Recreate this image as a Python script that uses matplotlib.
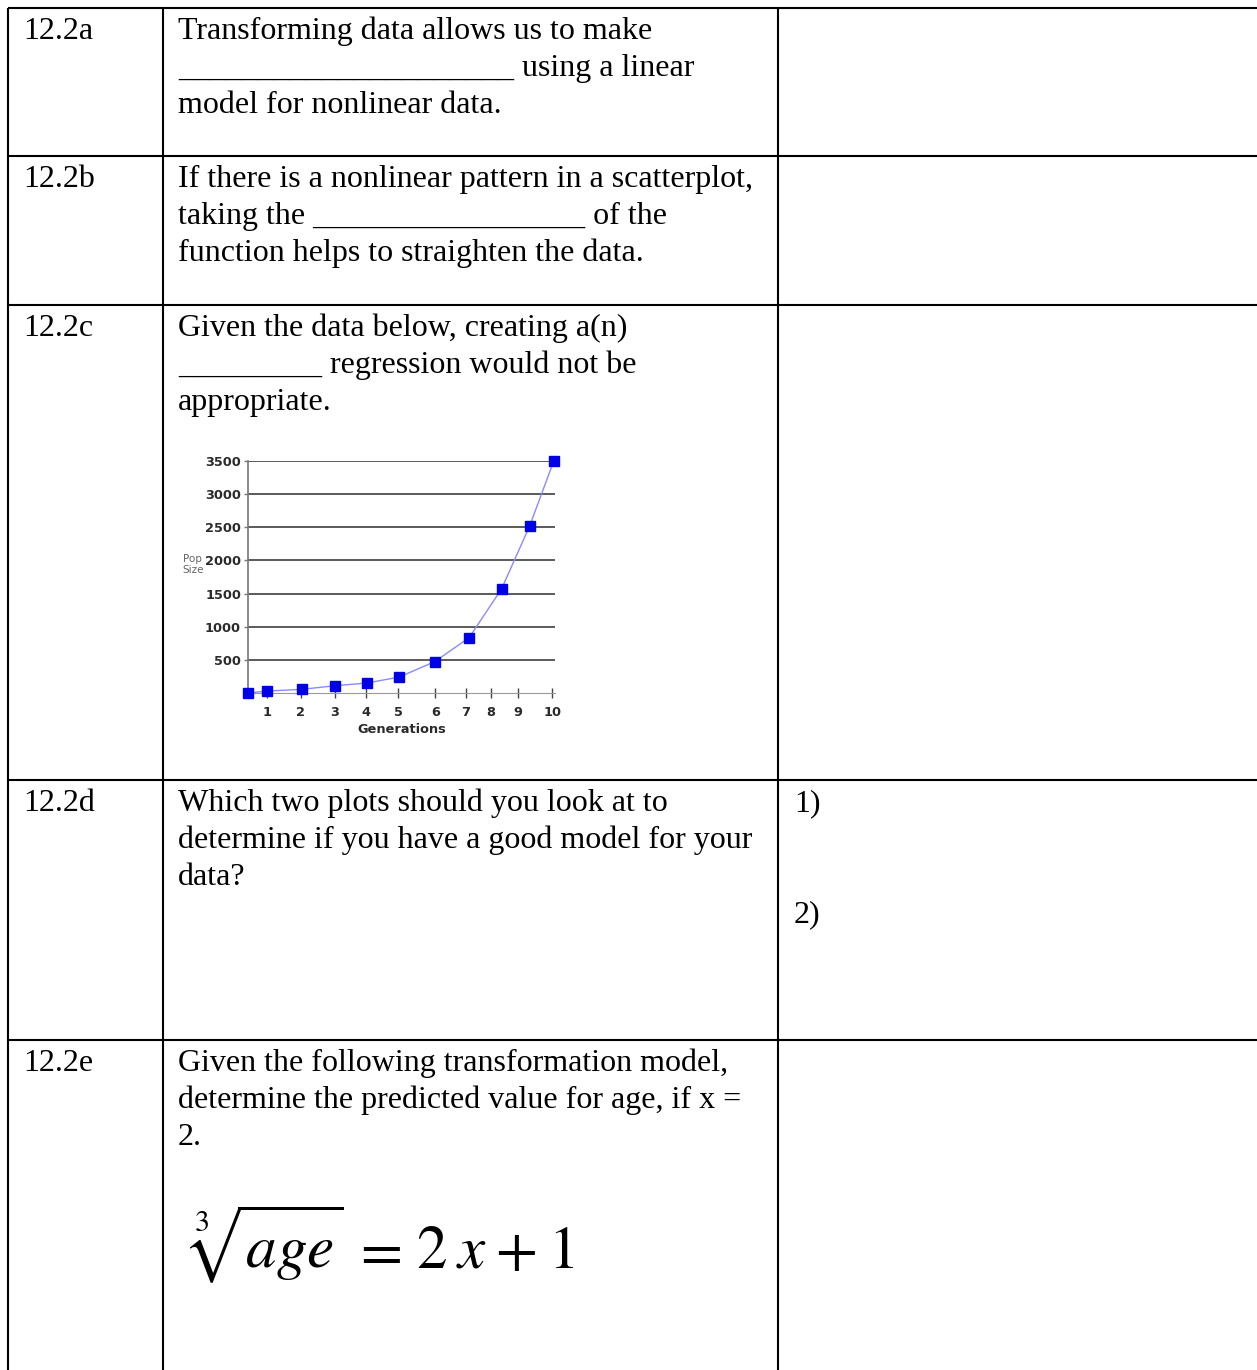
import matplotlib
matplotlib.use('Agg')
import matplotlib.pyplot as plt

# worksheet table content
row_labels = ['12.2a', '12.2b', '12.2c', '12.2d', '12.2e']
row_lines = [
    ['Transforming data allows us to make',
     '_____________________ using a linear',
     'model for nonlinear data.'],
    ['If there is a nonlinear pattern in a scatterplot,',
     'taking the _________________ of the',
     'function helps to straighten the data.'],
    ['Given the data below, creating a(n)',
     '_________ regression would not be',
     'appropriate.'],
    ['Which two plots should you look at to',
     'determine if you have a good model for your',
     'data?'],
    ['Given the following transformation model,',
     'determine the predicted value for age, if x =',
     '2.'],
]
answer_marks = ['1)', '2)']
equation_parts = [r'$\sqrt[3]{age}$', r'$=$', r'$2$', r'$x$', r'$+$', r'$1$']

# embedded chart data (x positions as placed on the original chart)
gen_pos = [0, 0.63, 1.76, 2.85, 3.88, 4.95, 6.12, 7.24, 8.30, 9.22, 10.01]
pop_size = [0, 30, 55, 110, 150, 240, 475, 835, 1570, 2520, 3500]
tick_pos = [0.61, 1.73, 2.84, 3.86, 4.92, 6.13, 7.14, 7.96, 8.85, 9.96]
tick_labels = ['1', '2', '3', '4', '5', '6', '7', '8', '9', '10']
y_ticks = [500, 1000, 1500, 2000, 2500, 3000, 3500]

W, H = 1257, 1370
plt.rcParams['mathtext.fontset'] = 'stix'
fig = plt.figure(figsize=(W / 100, H / 100), dpi=100)
ax = fig.add_axes([0, 0, 1, 1])
ax.set_xlim(0, W)
ax.set_ylim(H, 0)
ax.axis('off')

row_tops = [8, 156, 305, 780, 1040]
col_x = [8, 163, 778]
lw = 1.5

for y in row_tops:
    ax.plot([col_x[0], W], [y, y], color='black', lw=lw, solid_capstyle='butt')
for x in col_x:
    ax.plot([x, x], [row_tops[0], H], color='black', lw=lw, solid_capstyle='butt')

serif = dict(family='Liberation Serif', fontsize=23, color='black', va='baseline')
line_h = 37
for top, lab, lines in zip(row_tops, row_labels, row_lines):
    base = top + 31
    ax.text(23, base, lab, ha='left', **serif)
    for i, s in enumerate(lines):
        ax.text(178, base + i * line_h, s, ha='left', **serif)

# answer markers for 12.2d
d_base = row_tops[3] + 31
ax.text(794, d_base, answer_marks[0], ha='left', **serif)
ax.text(794, d_base + 3 * line_h, answer_marks[1], ha='left', **serif)

# equation for 12.2e, pieces spaced like the original
eq_x = [188, 352, 416, 456, 495, 548]
for x, part in zip(eq_x, equation_parts):
    ax.text(x, 1268, part, fontsize=44, ha='left', va='baseline', color='black')

# embedded chart
cax = fig.add_axes([248 / W, 1 - 693 / H, (555 - 248) / W, (693 - 461) / H])
cax.set_xlim(0, 10.05)
cax.set_ylim(0, 3500)
for yv in y_ticks:
    cax.axhline(yv, color='#5a5a5a', lw=1.4, zorder=1)
cax.plot(gen_pos, pop_size, color='#8a8aff', lw=1.0, zorder=3, clip_on=False)
cax.plot(gen_pos, pop_size, ls='none', marker='s', markersize=6.8,
         color='#0000e6', zorder=4, clip_on=False)

for side in ['top', 'right']:
    cax.spines[side].set_visible(False)
cax.spines['left'].set_color('#777777')
cax.spines['left'].set_linewidth(1.2)
cax.spines['bottom'].set_color('#9a9a9a')
cax.spines['bottom'].set_linewidth(0.8)

cax.set_yticks(y_ticks)
cax.set_yticklabels([str(v) for v in y_ticks])
cax.set_xticks(tick_pos)
cax.set_xticklabels(tick_labels)
cax.tick_params(axis='y', length=3, width=1, color='#777777', pad=2,
                labelsize=9.3, labelcolor='#2a2a2a')
cax.tick_params(axis='x', direction='inout', length=7, width=1, color='#444444',
                pad=6, labelsize=9.3, labelcolor='#2a2a2a')
for t in cax.get_xticklabels() + cax.get_yticklabels():
    t.set_fontweight('bold')
cax.set_xlabel('Generations', fontsize=9.3, fontweight='bold', color='#2a2a2a', labelpad=3)
cax.text(-0.18, 0.555, 'Pop\nSize', transform=cax.transAxes, fontsize=7.5,
         color='#666666', ha='center', va='center', linespacing=1.15)

fig.savefig('out.png', dpi=100)
